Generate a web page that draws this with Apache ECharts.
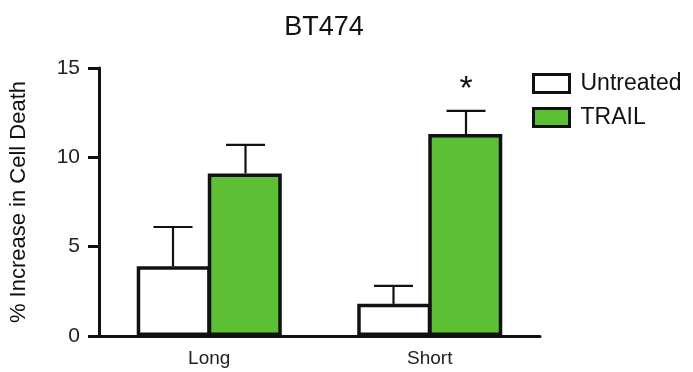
<!DOCTYPE html>
<html>
<head>
<meta charset="utf-8">
<script src="https://cdn.jsdelivr.net/npm/echarts@6/dist/echarts.min.js"></script>
<style>html,body{margin:0;padding:0;background:#fff}#c{width:693px;height:372px}</style>
</head>
<body>
<div id="c"></div>
<script>
var categories = ['Long', 'Short'];
var untreated = [3.9, 1.8];
var untreatedErr = [2.2, 1.0];
var trail = [9.1, 11.3];
var trailErr = [1.6, 1.3];
var significance = ['', '*'];
var yTicks = [0, 5, 10, 15];

var BAR_W = 74;
var FONT = 'Liberation Sans, Arial, sans-serif';
var chart = echarts.init(document.getElementById('c'));

function errSeries(name, vals, errs, side, marks) {
  return {
    type: 'custom',
    name: name + ' err',
    z: 5,
    data: vals.map(function (v, i) { return [i, v, v + errs[i]]; }),
    renderItem: function (params, api) {
      var c0 = api.coord([api.value(0), api.value(1)]);
      var c1 = api.coord([api.value(0), api.value(2)]);
      var x = c0[0] + side * (BAR_W - 1.5) / 2;
      var cap = 19.5;
      var children = [
        { type: 'line', shape: { x1: x, y1: c0[1], x2: x, y2: c1[1] }, style: { stroke: '#111', lineWidth: 2.2 } },
        { type: 'line', shape: { x1: x - cap, y1: c1[1], x2: x + cap, y2: c1[1] }, style: { stroke: '#111', lineWidth: 2.2 } }
      ];
      var mark = marks ? marks[params.dataIndex] : '';
      if (mark) {
        children.push({ type: 'text', x: x, y: c1[1] - 21, style: { text: mark, fill: '#111', font: '34px ' + FONT, align: 'center', verticalAlign: 'middle' } });
      }
      return { type: 'group', children: children };
    }
  };
}

chart.setOption({
  animation: false,
  backgroundColor: '#fff',
  title: {
    text: 'BT474',
    left: 319, top: 9, textAlign: 'center',
    textStyle: { fontFamily: FONT, fontSize: 27, fontWeight: 'normal', color: '#111' }
  },
  legend: {
    orient: 'vertical', left: 532, top: 72, padding: 0,
    icon: 'rect',
    itemWidth: 36, itemHeight: 18, itemGap: 11,
    data: ['Untreated', 'TRAIL'],
    itemStyle: { borderColor: '#111', borderWidth: 3 },
    textStyle: { fontFamily: FONT, fontSize: 23, color: '#111', padding: [0, 0, 0, 6] }
  },
  grid: { left: 99, right: 153, top: 68, bottom: 36 },
  xAxis: {
    type: 'category', data: categories,
    axisLine: { lineStyle: { color: '#111', width: 3 } },
    axisTick: { alignWithLabel: true, length: 9, lineStyle: { color: '#111', width: 3 } },
    axisLabel: { margin: 13, fontFamily: FONT, fontSize: 19, color: '#222' }
  },
  yAxis: {
    type: 'value', min: 0, max: 15, interval: 5,
    name: '% Increase in Cell Death', nameLocation: 'middle', nameGap: 69,
    nameTextStyle: { fontFamily: FONT, fontSize: 22, color: '#111', padding: [0, 0, 0, 0] },
    axisLine: { show: true, lineStyle: { color: '#111', width: 3 } },
    axisTick: { show: true, inside: false, length: 11, lineStyle: { color: '#111', width: 3 } },
    axisLabel: { margin: 19, fontFamily: FONT, fontSize: 21, color: '#222',
      formatter: function (v) { return yTicks.indexOf(v) >= 0 ? String(v) : ''; } },
    splitLine: { show: false }
  },
  series: [
    { type: 'bar', name: 'Untreated', data: untreated, barWidth: BAR_W, barGap: '-4%',
      itemStyle: { color: '#ffffff', borderColor: '#111', borderWidth: 3.5 } },
    { type: 'bar', name: 'TRAIL', data: trail, barWidth: BAR_W, barGap: '-4%',
      itemStyle: { color: '#5dbf33', borderColor: '#111', borderWidth: 3.5 } },
    errSeries('Untreated', untreated, untreatedErr, -1, null),
    errSeries('TRAIL', trail, trailErr, 1, significance)
  ]
});
</script>
</body>
</html>
